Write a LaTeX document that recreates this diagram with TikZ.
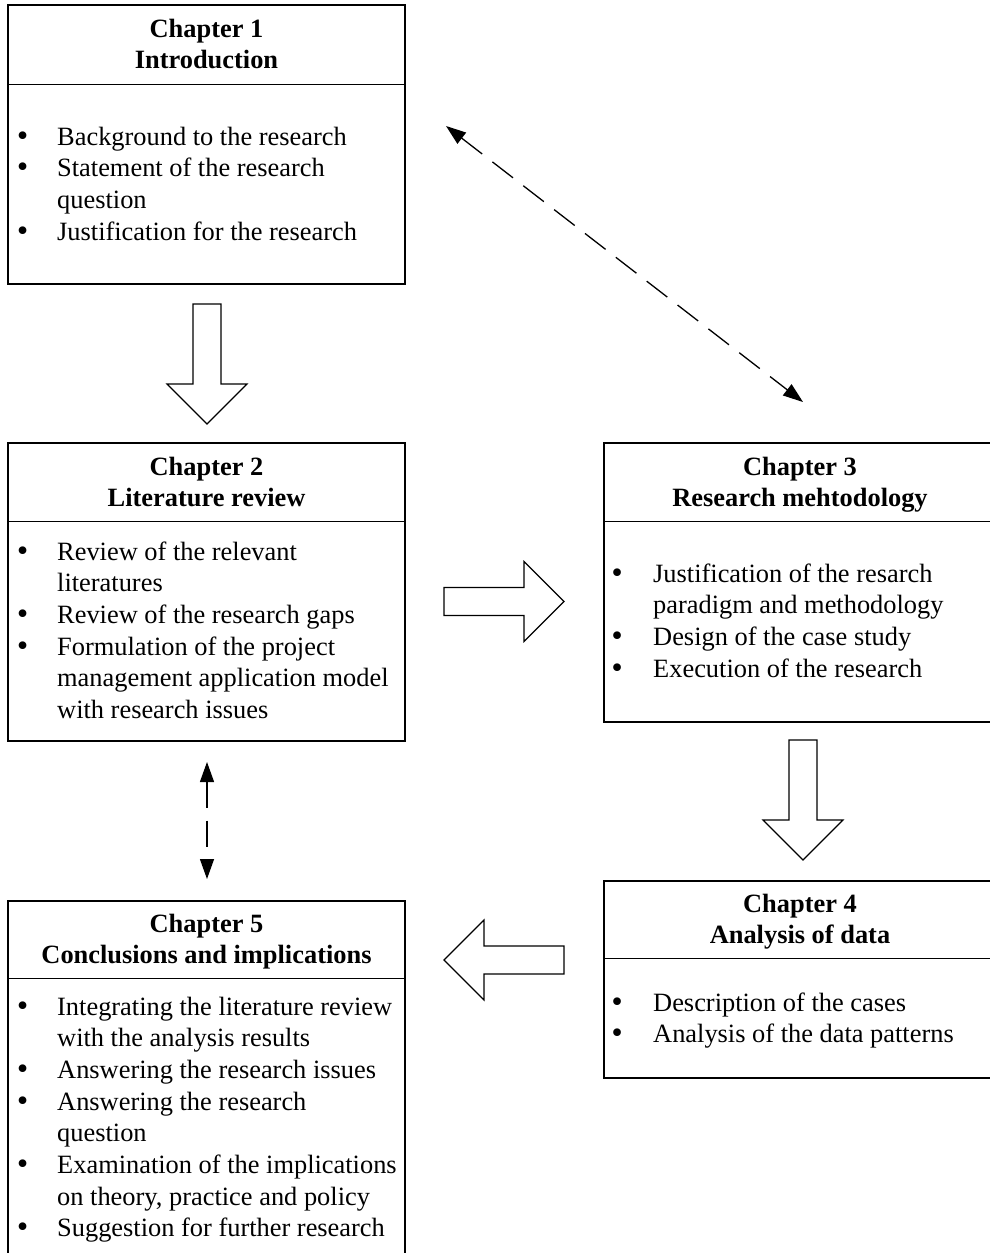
\documentclass[tikz,border=0pt]{standalone}
\usepackage{fontspec}
\setmainfont{Liberation Serif}
\newfontfamily\dotfont{DejaVu Sans}
\usetikzlibrary{arrows.meta}

% list bullet, centred in a fixed 9pt slot
\newcommand{\listdot}{\makebox[9pt][c]{\dotfont\symbol{"2022}}}

\tikzset{
  chapbox/.style={draw=black, line width=1.3pt, rectangle, inner sep=0pt},
  divider/.style={line width=1.3pt},
  headtext/.style={inner sep=0pt, anchor=base, align=center,
    font=\fontsize{26.4pt}{31.7pt}\selectfont\bfseries},
  bodytext/.style={inner sep=0pt, anchor=base west,
    font=\fontsize{26.4pt}{31.7pt}\selectfont},
  blockarrow/.style={draw=black, fill=white, line width=1.2pt, line join=miter},
  link/.style={line width=1.3pt, dash pattern=on 26pt off 13pt,
    {Triangle[length=20pt,width=14pt]}-{Triangle[length=20pt,width=14pt]}},
  pics/bigarrow/.style={code={
    \draw[blockarrow] (0,-14) -- (80,-14) -- (80,-40) -- (120,0)
      -- (80,40) -- (80,14) -- (0,14) -- cycle;}}
}

\begin{document}
\begin{tikzpicture}[x=1pt,y=-1pt]
  \useasboundingbox (0,0) rectangle (990,1253);
  \fill[white] (0,0) rectangle (990,1253);
  \clip (0,0) rectangle (990,1253);

  % chapter frames
  \node[chapbox, minimum width=397pt, minimum height=279pt] (c1) at (206.5,144.5) {};
  \node[chapbox, minimum width=397pt, minimum height=298pt] (c2) at (206.5,592) {};
  \node[chapbox, minimum width=392pt, minimum height=279pt] (c3) at (800,582.5) {};
  \node[chapbox, minimum width=392pt, minimum height=197pt] (c4) at (800,979.5) {};
  \node[chapbox, minimum width=397pt, minimum height=369pt] (c5) at (206.5,1085.5) {};

  % rules under the chapter titles
  \draw[divider] ([yshift=-80pt]c1.north west) -- ([yshift=-80pt]c1.north east);
  \draw[divider] ([yshift=-79pt]c2.north west) -- ([yshift=-79pt]c2.north east);
  \draw[divider] ([yshift=-79pt]c3.north west) -- ([yshift=-79pt]c3.north east);
  \draw[divider] ([yshift=-78pt]c4.north west) -- ([yshift=-78pt]c4.north east);
  \draw[divider] ([yshift=-78pt]c5.north west) -- ([yshift=-78pt]c5.north east);

  % chapter titles
  \node[headtext] (t1) at (206.5,37) {\begin{tabular}[t]{@{}c@{}}Chapter 1\\Introduction\end{tabular}};
  \node[headtext] (t2) at (206.5,475) {\begin{tabular}[t]{@{}c@{}}Chapter 2\\Literature review\end{tabular}};
  \node[headtext] (t3) at (800,475) {\begin{tabular}[t]{@{}c@{}}Chapter 3\\Research mehtodology\end{tabular}};
  \node[headtext] (t4) at (800,912) {\begin{tabular}[t]{@{}c@{}}Chapter 4\\Analysis of data\end{tabular}};
  \node[headtext] (t5) at (206.5,932) {\begin{tabular}[t]{@{}c@{}}Chapter 5\\Conclusions and implications\end{tabular}};

  % chapter contents
  \node[bodytext] (b1) at (18,145) {\begin{tabular}[t]{@{}p{39pt}@{}l@{}}
    \listdot & Background to the research\\
    \listdot & Statement of the research\\
             & question\\
    \listdot & Justification for the research
  \end{tabular}};
  \node[bodytext] (b2) at (18,560) {\begin{tabular}[t]{@{}p{39pt}@{}l@{}}
    \listdot & Review of the relevant\\
             & literatures\\
    \listdot & Review of the research gaps\\
    \listdot & Formulation of the project\\
             & management application model\\
             & with research issues
  \end{tabular}};
  \node[bodytext] (b3) at (612.5,582) {\begin{tabular}[t]{@{}p{40.5pt}@{}l@{}}
    \listdot & Justification of the resarch\\
             & paradigm and methodology\\
    \listdot & Design of the case study\\
    \listdot & Execution of the research
  \end{tabular}};
  \node[bodytext] (b4) at (612.5,1011) {\begin{tabular}[t]{@{}p{40.5pt}@{}l@{}}
    \listdot & Description of the cases\\
    \listdot & Analysis of the data patterns
  \end{tabular}};
  \node[bodytext] (b5) at (18,1015) {\begin{tabular}[t]{@{}p{39pt}@{}l@{}}
    \listdot & Integrating the literature review\\
             & with the analysis results\\
    \listdot & Answering the research issues\\
    \listdot & Answering the research\\
             & question\\
    \listdot & Examination of the implications\\
             & on theory, practice and policy\\
    \listdot & Suggestion for further research
  \end{tabular}};

  % hollow flow arrows between chapters
  \pic[rotate=-90] at (207,304) {bigarrow};
  \pic at (444,601.5) {bigarrow};
  \pic[rotate=-90] at (803,740) {bigarrow};
  \pic[rotate=180] at (564,960) {bigarrow};

  % dashed two-way links
  \coordinate (dA) at (446,126);
  \coordinate (dB) at (803,402);
  \coordinate (vA) at (207,762);
  \coordinate (vB) at (207,879);
  \draw[link] (dA) -- (dB);
  \draw[link] (vA) -- (vB);
\end{tikzpicture}
\end{document}
